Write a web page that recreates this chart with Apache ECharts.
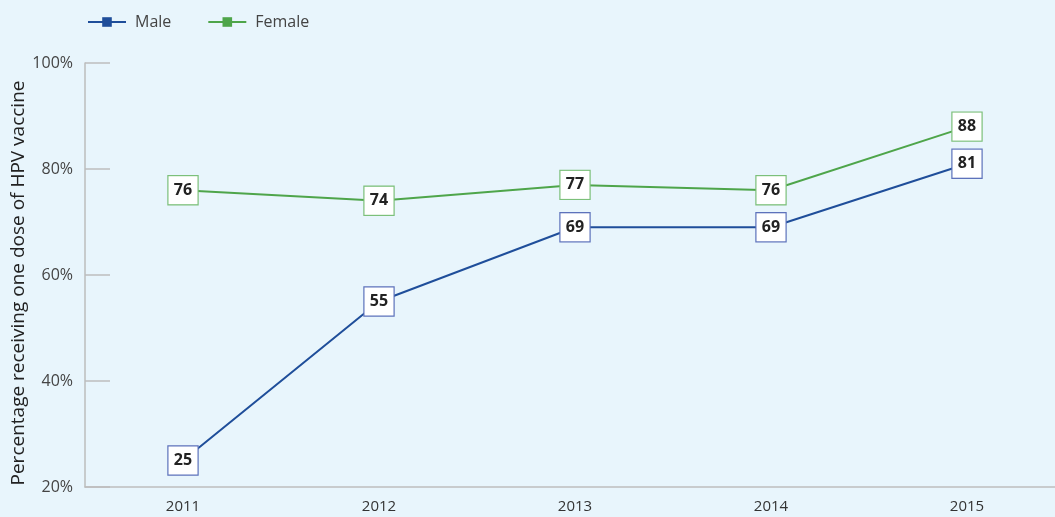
<!DOCTYPE html>
<html><head><meta charset="utf-8">
<script src="https://cdn.jsdelivr.net/npm/echarts@6/dist/echarts.min.js"></script>
<style>html,body{margin:0;padding:0;background:#e8f5fc;}#c{width:1055px;height:517px;}</style>
</head><body><div id="c"></div>
<script>
const years = ['2011','2012','2013','2014','2015'];
const male = [25, 55, 69, 69, 81];
const female = [76, 74, 77, 76, 88];
const yTicks = [20, 40, 60, 80, 100];
const yTitle = 'Percentage receiving one dose of HPV vaccine';

const FONT = '"Open Sans", "Noto Sans", sans-serif';
const chart = echarts.init(document.getElementById('c'), null, {renderer:'canvas'});
function lbl(border){
  return {show:true, position:'inside', backgroundColor:'#ffffff', borderColor:border, borderWidth:1.2,
    padding:[5,5,4,5], width:19, align:'center', color:'#222', fontWeight:'bold', fontSize:16, fontFamily:FONT, lineHeight:19};
}
chart.setOption({
  backgroundColor:'#e8f5fc',
  animation:false,
  textStyle:{fontFamily:FONT},
  legend:{left:82, top:9, itemWidth:38, itemHeight:12, itemGap:36, textStyle:{fontSize:16, color:'#444', fontFamily:FONT, padding:[0,0,0,4]},
    data:['Male','Female']},
  grid:{left:85, right:-10, top:63, bottom:30, containLabel:false, outerBoundsMode:'none'},
  xAxis:{type:'category', data:years, boundaryGap:true,
    axisLine:{lineStyle:{color:'#bdbdbd', width:1.5}},
    axisTick:{inside:true, length:10, lineStyle:{color:'#bdbdbd', width:1.5}},
    axisLabel:{color:'#333', fontSize:15, margin:12, fontFamily:FONT}},
  yAxis:{type:'value', min:yTicks[0], max:yTicks[yTicks.length-1], interval:20,
    name:yTitle, nameLocation:'middle', nameGap:57, nameRotate:90, nameMoveOverlap:false,
    nameTextStyle:{fontSize:19, color:'#222', fontFamily:FONT, padding:[0,16,0,0]},
    axisLine:{show:true, lineStyle:{color:'#bdbdbd', width:1.5}},
    axisTick:{show:true, inside:true, length:25, lineStyle:{color:'#bdbdbd', width:1.5}},
    splitLine:{show:false},
    axisLabel:{formatter:'{value}%', color:'#444', fontSize:16, margin:12, fontFamily:FONT}},
  series:[
    {name:'Male', type:'line', data:male, symbol:'rect', symbolSize:[12,12],
      itemStyle:{color:'#1f4e9a'}, lineStyle:{color:'#1f4e9a', width:2},
      label:lbl('#5d72bb')},
    {name:'Female', type:'line', data:female, symbol:'rect', symbolSize:[12,12],
      itemStyle:{color:'#4ea54a'}, lineStyle:{color:'#4ea54a', width:2},
      label:lbl('#7cc07a')}
  ]
});
</script></body></html>
